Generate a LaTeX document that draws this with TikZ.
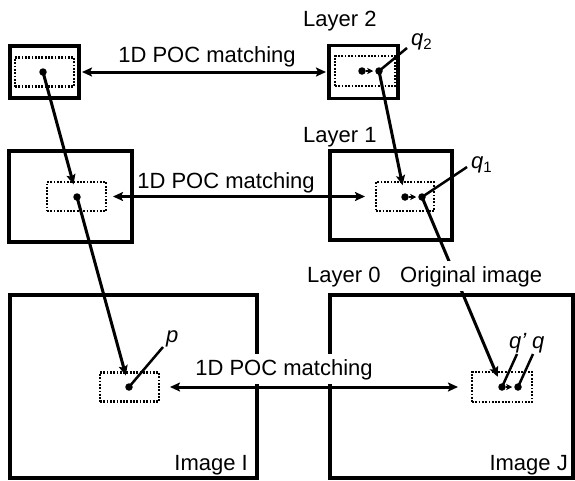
\documentclass[tikz,border=0pt]{standalone}
\usepackage{fontspec}
\setmainfont{Liberation Sans}
\usetikzlibrary{arrows.meta}
\begin{document}
\begin{tikzpicture}[x=1pt,y=-1pt,
 frame/.style={draw, line width=3.3pt, inner sep=0pt, outer sep=0pt},
 win/.style={draw, line width=2.3pt, dash pattern=on 1.8pt off 1.5pt, inner sep=0pt, outer sep=0pt},
 spot/.style={circle, fill, inner sep=0pt, outer sep=0pt, minimum size=7.5pt},
 conn/.style={line width=3pt, -{Stealth[length=10pt,width=9pt,inset=2pt]}},
 match/.style={line width=3pt, {Stealth[length=10pt,width=9pt,inset=2pt]}-{Stealth[length=10pt,width=9pt,inset=2pt]}},
 shiftarr/.style={line width=2pt, -{Stealth[length=6pt,width=6pt,inset=1.5pt]}, shorten >=2pt},
 lead/.style={line width=2.5pt},
 lbl/.style={font=\fontsize{22}{26}\selectfont, inner sep=0pt},
 wlbl/.style={lbl, fill=white, text height=17pt, text depth=5pt, inner ysep=4pt, inner xsep=3pt}
]
\useasboundingbox (0,0) rectangle (575,480);
% layer 2
\node[frame, minimum width=69pt, minimum height=52pt] (L2a) at (44.5,72) {};
\node[win, minimum width=59pt, minimum height=29pt] (L2ai) at (44.5,72) {};
\node[frame, minimum width=69pt, minimum height=53pt] (L2b) at (363.5,72) {};
\node[win, minimum width=60pt, minimum height=30pt] (L2bi) at (365,71) {};
% layer 1
\node[frame, minimum width=123pt, minimum height=91pt] (L1a) at (70.5,196.5) {};
\node[win, minimum width=59pt, minimum height=29pt] (L1ai) at (76.5,196.5) {};
\node[frame, minimum width=122pt, minimum height=89pt] (L1b) at (391,195.5) {};
\node[win, minimum width=58pt, minimum height=29pt] (L1bi) at (405,196.5) {};
% layer 0
\node[frame, minimum width=247pt, minimum height=183pt] (I) at (133.5,386.5) {};
\node[win, minimum width=59pt, minimum height=29pt] (Ii) at (129.5,387) {};
\node[frame, minimum width=243pt, minimum height=183pt] (J) at (451.5,386.5) {};
\node[win, minimum width=60pt, minimum height=30pt] (Ji) at (502,387) {};
% points
\node[spot] (d2a) at (43,72) {};
\node[spot] (d2b1) at (362,71) {};
\node[spot] (d2b2) at (379,71) {};
\node[spot] (d1a) at (77,197) {};
\node[spot] (d1b1) at (405,197) {};
\node[spot] (d1b2) at (422,197) {};
\node[spot] (p) at (129,387) {};
\node[spot] (qp) at (502,387) {};
\node[spot] (q) at (518,387) {};
\coordinate (q2end) at (407,48);
\coordinate (q1end) at (467,167);
\coordinate (pend) at (163,347);
\coordinate (qpend) at (517,354);
\coordinate (qend) at (533,354);
% matching arrows
\draw[match, shorten <=3pt, shorten >=3pt] (L2a.east) -- (L2b.west);
\draw[match] ([xshift=7pt]L1ai.east) -- ([xshift=-11pt]L1bi.west);
\draw[match] ([xshift=11pt]Ii.east) -- ([xshift=-14pt]Ji.west);
% layer propagation
\draw[conn, shorten >=13pt] (d2a.center) -- (d1a.center);
\draw[conn, shorten >=12pt] (d1a.center) -- (p.center);
\draw[conn, shorten >=12pt] (d2b2.center) -- (d1b1.center);
\draw[conn, shorten >=11pt] (d1b2.center) -- (qp.center);
% small shifts
\draw[shiftarr] (d2b1) -- (d2b2);
\draw[shiftarr] (d1b1) -- (d1b2);
\draw[shiftarr] (qp) -- (q);
% leaders
\draw[lead] (d2b2.center) -- (q2end);
\draw[lead] (d1b2.center) -- (q1end);
\draw[lead] (p.center) -- (pend);
\draw[lead] (qp.center) -- (qpend);
\draw[lead] (q.center) -- (qend);
% labels
\node[lbl, anchor=base] (t2) at (207,62) {1D POC matching};
\node[lbl, anchor=base] (t1) at (226,188) {1D POC matching};
\node[wlbl, anchor=base] (t0) at (284,375) {1D POC matching};
\node[lbl, anchor=base west] (lay2) at (303,26) {Layer 2};
\node[lbl, anchor=base west] (lay1) at (303,142) {Layer 1};
\node[lbl, anchor=base west] (lay0) at (307,282) {Layer 0};
\node[wlbl, anchor=base west] (orig) at (397,282) {Original image};
\node[lbl, anchor=base east] (imI) at (248,470) {Image I};
\node[lbl, anchor=base east] (imJ) at (568,470) {Image J};
\node[lbl, anchor=base west] (q2lab) at (411,45) {\textit{q}\raisebox{-4pt}{\fontsize{15}{15}\selectfont 2}};
\node[lbl, anchor=base west] (q1lab) at (471,168) {\textit{q}\raisebox{-4pt}{\fontsize{15}{15}\selectfont 1}};
\node[lbl, anchor=base west] (plab) at (166,342) {\textit{p}};
\node[lbl, anchor=base west] (qplab) at (509,348) {\textit{q’}};
\node[lbl, anchor=base west] (qlab) at (532,348) {\textit{q}};
\end{tikzpicture}
\end{document}
